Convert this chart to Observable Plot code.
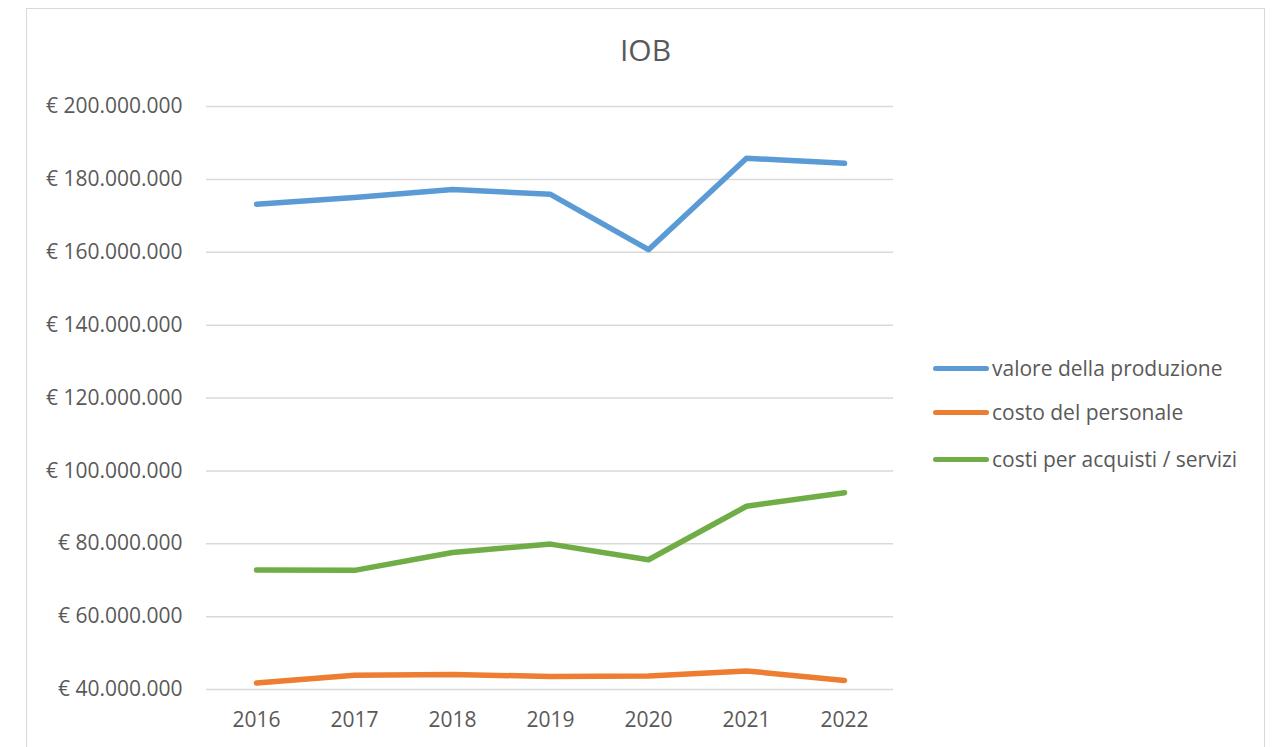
<!DOCTYPE html>
<html><head><meta charset="utf-8">
<script src="https://cdn.jsdelivr.net/npm/d3@7"></script>
<script src="https://cdn.jsdelivr.net/npm/@observablehq/plot@0.6"></script>
<style>
body{margin:0;background:#fff;}
#wrap{position:relative;width:1281px;height:747px;overflow:hidden;font-family:"Open Sans",sans-serif;color:#595959;background:#fff;}
#frame{position:absolute;left:26px;top:8px;width:1239px;height:800px;border:1.5px solid #d9d9d9;box-sizing:border-box;pointer-events:none;}
#title{position:absolute;left:0;width:1291px;top:30px;text-align:center;font-size:30px;line-height:40px;}
#chart{position:absolute;left:0;top:0;}
.leg{position:absolute;left:933px;height:24px;display:flex;align-items:center;font-size:21px;white-space:nowrap;}
.leg .sw{width:56px;height:5px;border-radius:3px;margin-right:3px;}
</style>
</head><body>
<div id="wrap">
  <div id="chart"></div>
  <div id="title">IOB</div>
  <div id="legend"></div>
  <div id="frame"></div>
</div>
<script>
const years = [2016, 2017, 2018, 2019, 2020, 2021, 2022];
const seriesNames = ["valore della produzione", "costo del personale", "costi per acquisti / servizi"];
const seriesColors = ["#5B9BD5", "#ED7D31", "#70AD47"];
const valoreProduzione = [173200000, 175000000, 177200000, 175900000, 160700000, 185800000, 184400000];
const costoPersonale = [41800000, 43900000, 44100000, 43600000, 43700000, 45100000, 42500000];
const costiAcquistiServizi = [72800000, 72700000, 77600000, 79900000, 75600000, 90300000, 94000000];
const yTicks = [40000000, 60000000, 80000000, 100000000, 120000000, 140000000, 160000000, 180000000, 200000000];

const seriesValues = [valoreProduzione, costoPersonale, costiAcquistiServizi];
const data = [];
seriesNames.forEach((name, i) => {
  years.forEach((yr, j) => data.push({series: name, year: yr, value: seriesValues[i][j]}));
});

const locale = d3.formatLocale({decimal: ",", thousands: ".", grouping: [3], currency: ["€ ", ""]});
const fmt = locale.format("$,.0f");

const chart = Plot.plot({
  width: 1281,
  height: 747,
  marginLeft: 206,
  marginRight: 388,
  marginTop: 106,
  marginBottom: 58,
  style: {fontFamily: "'Open Sans', sans-serif", fontSize: "21px", color: "#595959", background: "transparent"},
  x: {type: "point", domain: years, padding: 0.5},
  y: {domain: [40000000, 200000000]},
  color: {domain: seriesNames, range: seriesColors},
  marks: [
    Plot.gridY(yTicks, {stroke: "#d9d9d9", strokeOpacity: 1, strokeWidth: 1.5}),
    Plot.axisY(yTicks, {tickSize: 0, tickPadding: 24, tickFormat: fmt, label: null, fontSize: 21}),
    Plot.axisX(years, {tickSize: 0, tickPadding: 23, tickFormat: d => String(d), label: null, fontSize: 21}),
    Plot.line(data, {x: "year", y: "value", z: "series", stroke: "series", strokeWidth: 5.5, strokeLinecap: "round", strokeLinejoin: "round"})
  ]
});
document.getElementById("chart").appendChild(chart);

const legendY = [368, 412, 459];
const legend = document.getElementById("legend");
seriesNames.forEach((name, i) => {
  const item = document.createElement("div");
  item.className = "leg";
  item.style.top = (legendY[i] - 12) + "px";
  const sw = document.createElement("div");
  sw.className = "sw";
  sw.style.background = seriesColors[i];
  const tx = document.createElement("span");
  tx.textContent = name;
  item.appendChild(sw);
  item.appendChild(tx);
  legend.appendChild(item);
});
</script>
</body></html>
